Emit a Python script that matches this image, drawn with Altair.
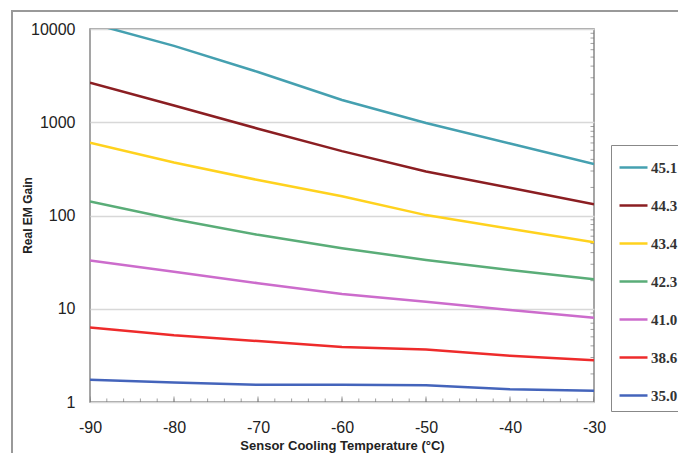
import altair as alt
import pandas as pd

temps = [-90, -80, -70, -60, -50, -40, -30]
series_names = ["45.1", "44.3", "43.4", "42.3", "41.0", "38.6", "35.0"]
g451 = [11600, 6590, 3460, 1730, 980, 592, 357]
g443 = [2660, 1510, 853, 490, 296, 198, 132]
g434 = [604, 371, 240, 161, 101, 72, 51.5]
g423 = [141, 91, 62, 44.6, 33.4, 26.1, 20.7]
g410 = [32.9, 25, 18.8, 14.4, 11.9, 9.7, 8.0]
g386 = [6.3, 5.2, 4.5, 3.9, 3.66, 3.13, 2.8]
g350 = [1.73, 1.62, 1.53, 1.53, 1.51, 1.37, 1.32]
colors = ["#45a0b0", "#8b1e22", "#ffd21e", "#5aad78", "#cc6ccc", "#ee2b2b", "#4464bb"]

y_major = [1, 10, 100, 1000, 10000]
x_major = [-90, -80, -70, -60, -50, -40, -30]
x_minor = list(range(-90, -29, 2))
y_minor = [m * d for d in [1, 10, 100, 1000] for m in range(2, 10)]

all_series = [g451, g443, g434, g423, g410, g386, g350]
rows = []
for name, vals in zip(series_names, all_series):
    for t, v in zip(temps, vals):
        rows.append({"temp": t, "gain": v, "series": name})
df = pd.DataFrame(rows)

xscale = alt.Scale(domain=[-90, -30], nice=False, zero=False)
yscale = alt.Scale(type="log", domain=[1, 10000], nice=False)

lines = alt.Chart(df).mark_line(strokeWidth=2.5, clip=True).encode(
    x=alt.X("temp:Q", scale=xscale,
            axis=alt.Axis(values=x_major, labelExpr="'' + datum.value", ticks=False,
                          domain=False, grid=False, labelPadding=17, labelFlush=False,
                          labelFontSize=16, labelColor="#222",
                          title="Sensor Cooling Temperature (°C)", titleFontSize=13,
                          titleFontWeight="bold", titleColor="#222", titlePadding=4)),
    y=alt.Y("gain:Q", scale=yscale,
            axis=alt.Axis(values=y_major, format="d", ticks=False, domain=False,
                          grid=True, gridColor="#d8d8d8", gridWidth=1.5, labelFlush=False,
                          labelPadding=15, labelFontSize=16, labelColor="#222",
                          title="Real EM Gain", titleFontSize=12, titleFontWeight="bold",
                          titleColor="#222", titleX=-63, titleY=186, titleAngle=270,
                          titleAlign="center", titleBaseline="middle")),
    color=alt.Color("series:N",
                    scale=alt.Scale(domain=series_names, range=colors),
                    legend=alt.Legend(title=None, orient="none", legendX=521, legendY=116,
                                      symbolType="stroke", symbolSize=784,
                                      symbolStrokeWidth=2.5, rowPadding=14,
                                      padding=7, labelOffset=2,
                                      labelFont="Liberation Serif", labelFontSize=15,
                                      labelFontWeight="bold", labelColor="#333",
                                      strokeColor="#888", fillColor="white")),
)

xt_df = pd.DataFrame({"t": x_minor, "g": [1] * len(x_minor),
                      "major": [t % 10 == 0 for t in x_minor]})
xticks_minor = alt.Chart(xt_df).mark_tick(orient="vertical", size=7, thickness=1,
                                          color="#777", clip=True).encode(
    x=alt.X("t:Q", scale=xscale), y=alt.Y("g:Q", scale=yscale))
xticks_major = alt.Chart(xt_df[xt_df["major"]]).mark_tick(orient="vertical", size=11, thickness=1,
                                                         color="#777", clip=True).encode(
    x=alt.X("t:Q", scale=xscale), y=alt.Y("g:Q", scale=yscale))

yt_df = pd.DataFrame({"t": [-30] * len(y_minor), "g": y_minor})
yticks = alt.Chart(yt_df).mark_tick(orient="horizontal", size=7, thickness=1,
                                    color="#777", clip=True).encode(
    x=alt.X("t:Q", scale=xscale), y=alt.Y("g:Q", scale=yscale))

frame = alt.Chart(pd.DataFrame({"a": [0]})).mark_rect(
    fill="transparent", stroke="#999", strokeWidth=2).encode(
    x=alt.value(-78), x2=alt.value(800), y=alt.value(-18), y2=alt.value(600))

chart = alt.layer(frame, xticks_minor, xticks_major, yticks, lines).properties(
    width=504, height=373,
    autosize=alt.AutoSizeParams(type="none"),
    padding={"left": 82, "top": 21, "right": 84, "bottom": 51},
    background="white",
).configure_view(stroke="#888", strokeWidth=1.5).configure_axis(
    labelFont="Liberation Sans", titleFont="Liberation Sans")

chart.save("out.html", embed_options={"renderer": "svg", "actions": False})
